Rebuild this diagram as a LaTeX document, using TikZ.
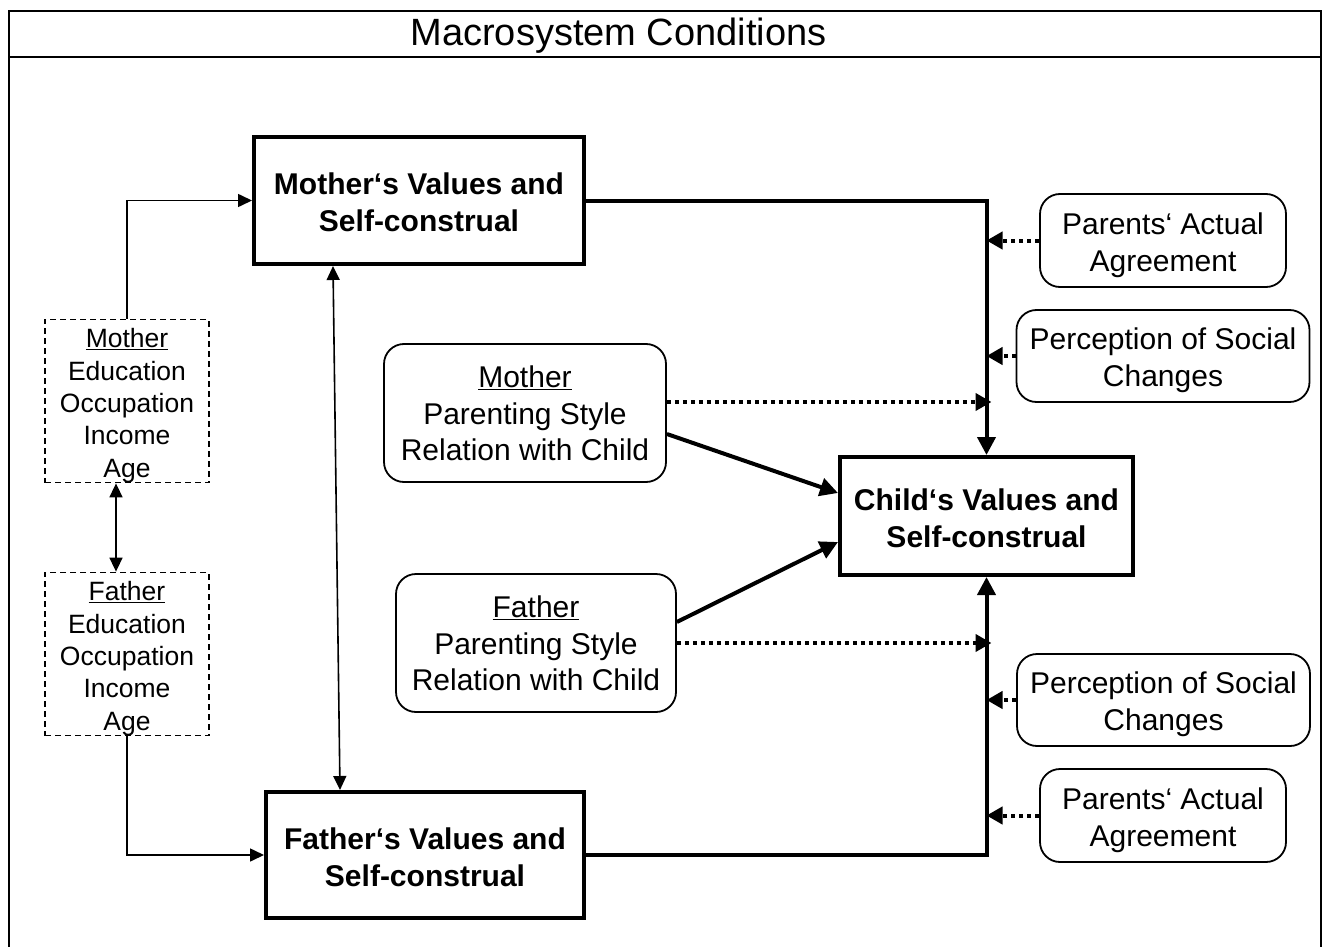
\documentclass[tikz,border=0pt]{standalone}
\usepackage{fontspec}
\setmainfont{Liberation Sans}
\usetikzlibrary{arrows.meta,calc}
\newcommand{\lowstrut}[1]{\rule{0pt}{#1}}
\begin{document}
\begin{tikzpicture}[x=1pt,y=-1pt,
  valbox/.style={draw, line width=4pt, inner sep=0pt, align=center, font=\fontsize{30}{37}\selectfont\bfseries},
  demobox/.style={draw, line width=1.6pt, dash pattern=on 6pt off 4pt, inner sep=0pt, align=center, font=\fontsize{26.5}{32.3}\selectfont},
  roundbox/.style={draw, line width=1.8pt, rounded corners=20pt, inner sep=0pt, align=center, font=\fontsize{30}{36.5}\selectfont},
  thickarrow/.style={line width=4pt, -{Triangle[length=18pt,width=18pt]}},
  dotarrow/.style={line width=4pt, dash pattern=on 4pt off 4pt, -{Triangle[length=16pt,width=17pt]}},
  thinarrow/.style={line width=1.6pt, -{Triangle[length=14pt,width=13pt]}},
  thinboth/.style={line width=1.6pt, {Triangle[length=14pt,width=13pt]}-{Triangle[length=14pt,width=13pt]}},
  frameline/.style={line width=2pt}
]
\useasboundingbox (0,0) rectangle (1323,947);
% frame
\draw[frameline] (9,947) -- (9,11) -- (1321,11) -- (1321,947);
\draw[frameline] (9,57) -- (1321,57);
\node[anchor=base, inner sep=0pt, font=\fontsize{38}{44}\selectfont] (title) at (618.5,46) {Macrosystem Conditions};

% main boxes
\node[valbox, minimum width=330pt, minimum height=127pt] (mv) at (419,200.5) {\lowstrut{26pt}Mother‘s Values and\\Self-construal};
\node[valbox, minimum width=318pt, minimum height=126pt] (fv) at (425,855) {\lowstrut{26pt}Father‘s Values and\\Self-construal};
\node[valbox, minimum width=293pt, minimum height=118pt] (cv) at (986.5,516) {\lowstrut{26pt}Child‘s Values and\\Self-construal};

% demographic boxes
\node[demobox, minimum width=164pt, minimum height=162pt] (md) at (127,401) {\lowstrut{28.5pt}\underline{Mother}\\Education\\Occupation\\Income\\Age};
\node[demobox, minimum width=164pt, minimum height=162pt] (fd) at (127,654) {\lowstrut{28.5pt}\underline{Father}\\Education\\Occupation\\Income\\Age};

% parenting boxes
\node[roundbox, minimum width=282pt, minimum height=138pt] (mp) at (525,413) {\lowstrut{23pt}\underline{Mother}\\Parenting Style\\Relation with Child};
\node[roundbox, minimum width=280pt, minimum height=138pt] (fp) at (536,643) {\lowstrut{23pt}\underline{Father}\\Parenting Style\\Relation with Child};

% right boxes
\node[roundbox, minimum width=246pt, minimum height=93pt, font=\fontsize{30}{37}\selectfont] (pa1) at (1163,240.5) {\lowstrut{31pt}Parents‘ Actual\\Agreement};
\node[roundbox, minimum width=293pt, minimum height=92pt, font=\fontsize{30}{37}\selectfont] (ps1) at (1163,356) {\lowstrut{31pt}Perception of Social\\Changes};
\node[roundbox, minimum width=293pt, minimum height=92pt, font=\fontsize{30}{37}\selectfont] (ps2) at (1163.5,700) {\lowstrut{31pt}Perception of Social\\Changes};
\node[roundbox, minimum width=246pt, minimum height=93pt, font=\fontsize{30}{37}\selectfont] (pa2) at (1163,815.5) {\lowstrut{31pt}Parents‘ Actual\\Agreement};

% connectors
\draw[thickarrow] (mv.east) -| (cv.north);
\draw[thickarrow] (fv.east) -| (cv.south);
\draw[dotarrow] (pa1.west) -- (pa1.west -| cv.north);
\draw[dotarrow] (ps1.west) -- (ps1.west -| cv.north);
\draw[dotarrow] (ps2.west) -- (ps2.west -| cv.north);
\draw[dotarrow] (pa2.west) -- (pa2.west -| cv.north);
\coordinate (mpd) at ($(mp.east)+(0,-11)$);
\draw[dotarrow] (mpd) -- ($(mpd -| cv.north)+(5,0)$);
\draw[dotarrow] (fp.east) -- ($(fp.east -| cv.north)+(5,0)$);
\draw[thickarrow] ($(mp.east)+(0,21)$) -- ($(cv.west)+(0,-23)$);
\draw[thickarrow] ($(fp.east)+(0,-21)$) -- ($(cv.west)+(0,26)$);
\draw[thinboth] ($(mv.south)+(-86,0)$) -- ($(fv.north)+(-85,0)$);
\draw[thinboth] ($(md.south)+(-11,0)$) -- ($(fd.north)+(-11,0)$);
\draw[thinarrow] (md.north) |- (mv.west);
\draw[thinarrow] (fd.south) |- (fv.west);
\end{tikzpicture}
\end{document}
